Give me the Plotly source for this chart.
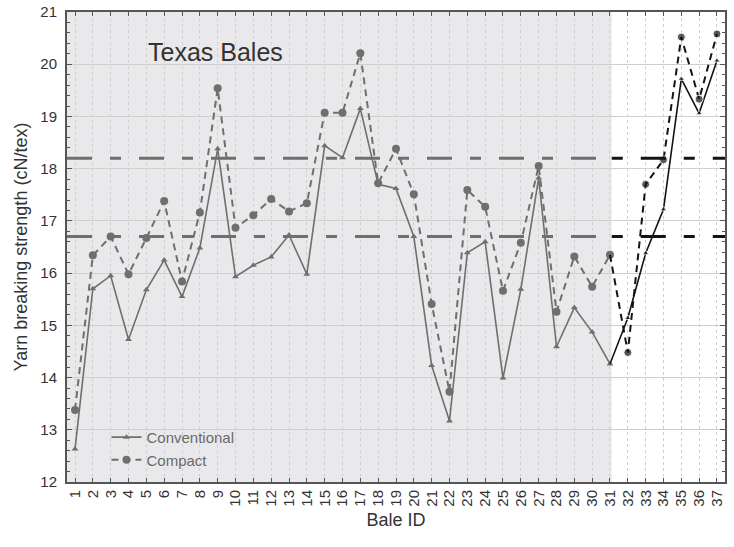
import plotly.graph_objects as go

# ── Dados ─────────────────────────────────────────────
bale_ids = list(range(1, 38))
conventional = [12.63, 15.70, 15.95, 14.73, 15.68, 16.25, 15.55, 16.48, 18.38, 15.93,
                16.15, 16.31, 16.73, 15.98, 18.44, 18.21, 19.15, 17.70, 17.62, 16.70,
                14.23, 13.17, 16.39, 16.60, 13.99, 15.69, 17.82, 14.59, 15.34, 14.87,
                14.26, 15.14, 16.38, 17.22, 19.72, 19.06, 20.07]
compact = [13.38, 16.34, 16.70, 15.98, 16.67, 17.38, 15.84, 17.16, 19.54, 16.87,
           17.11, 17.42, 17.18, 17.34, 19.07, 19.07, 20.21, 17.72, 18.38, 17.51,
           15.41, 13.73, 17.59, 17.27, 15.66, 16.58, 18.05, 15.26, 16.32, 15.74,
           16.35, 14.48, 17.70, 18.17, 20.52, 19.33, 20.58]
ref_lines = [18.2, 16.7]
texas_last = 31  # bales 1..31 are Texas

_GRAY = "#6f6f6f"
_BLACK = "#141414"
_FONT = "Liberation Sans, Arial, sans-serif"
n = texas_last

fig = go.Figure()

# Texas region (gray)
fig.add_trace(go.Scatter(
    x=bale_ids[:n], y=conventional[:n], name="Conventional",
    mode="lines+markers",
    line=dict(color=_GRAY, width=1.6),
    marker=dict(symbol="triangle-up", size=6, color=_GRAY),
))
fig.add_trace(go.Scatter(
    x=bale_ids[:n], y=compact[:n], name="Compact",
    mode="lines+markers",
    line=dict(color=_GRAY, width=2, dash="7px,5px"),
    marker=dict(symbol="circle", size=8, color=_GRAY),
))

# remaining bales (black)
sizes_c = [0] + [6] * (len(bale_ids) - n)
sizes_p = [0] + [8] * (len(bale_ids) - n)
fig.add_trace(go.Scatter(
    x=bale_ids[n - 1:], y=conventional[n - 1:], showlegend=False,
    mode="lines+markers",
    line=dict(color=_BLACK, width=1.6),
    marker=dict(symbol="triangle-up", size=sizes_c, color=_BLACK),
))
fig.add_trace(go.Scatter(
    x=bale_ids[n - 1:], y=compact[n - 1:], showlegend=False,
    mode="lines+markers",
    line=dict(color=_BLACK, width=2, dash="7px,5px"),
    marker=dict(symbol="circle", size=sizes_p, color=_BLACK),
))

x_lo, x_hi = 0.55, 37.45
x_split = texas_last + 0.1

# fundo cinza da região Texas
fig.add_shape(type="rect", xref="x", yref="paper", x0=x_lo, x1=x_split, y0=0, y1=1,
              fillcolor="#e9e9eb", line_width=0, layer="below")

for v in ref_lines:
    fig.add_shape(type="line", xref="x", yref="y", x0=x_lo, x1=x_split, y0=v, y1=v,
                  line=dict(color=_GRAY, width=3, dash="25px,18px,11px,18px"))
    fig.add_shape(type="line", xref="x", yref="y", x0=x_split, x1=x_hi, y0=v, y1=v,
                  line=dict(color=_BLACK, width=3, dash="11px,18px,25px,18px"))

fig.add_annotation(x=0.226, y=0.915, xref="paper", yref="paper", text="Texas Bales",
                   xanchor="center", yanchor="middle",
                   showarrow=False, font=dict(family=_FONT, size=25, color="#333333"))

fig.update_layout(
    width=734, height=547,
    paper_bgcolor="#ffffff", plot_bgcolor="#ffffff",
    margin=dict(l=67, r=9, t=12, b=65),
    font=dict(family=_FONT, size=13, color="#333333"),
    showlegend=True,
    legend=dict(x=0.06, y=0.13, xanchor="left", yanchor="top",
                bgcolor="rgba(0,0,0,0)", itemwidth=30,
                font=dict(size=15, color="#6a6a6a"), tracegroupgap=0),
    xaxis=dict(
        range=[x_lo, x_hi], tickmode="array", tickvals=bale_ids,
        ticktext=[str(b) for b in bale_ids], tickangle=-90,
        tickfont=dict(size=15),
        ticks="inside", ticklen=4, tickcolor="#555555",
        showline=True, linecolor="#555555", linewidth=2, mirror="allticks",
        showgrid=True, gridcolor="#d0d0d0", griddash="dot", gridwidth=1,
        zeroline=False, automargin=False,
        title=dict(text="Bale ID", font=dict(size=18), standoff=8),
    ),
    yaxis=dict(
        range=[12, 21], dtick=1, tick0=12,
        tickfont=dict(size=15), ticklabelstandoff=5,
        ticks="inside", ticklen=5, tickcolor="#555555",
        showline=True, linecolor="#555555", linewidth=2, mirror="allticks",
        showgrid=True, gridcolor="#cfcfcf", gridwidth=1,
        minor=dict(dtick=0.2, ticks="inside", ticklen=3, tickcolor="#555555", showgrid=False),
        zeroline=False, automargin=False,
        title=dict(text="Yarn breaking strength (cN/tex)", font=dict(size=18), standoff=8),
    ),
)

fig.write_html("out.html", config={"displayModeBar": False},
               post_script="document.body.style.margin='0';")
